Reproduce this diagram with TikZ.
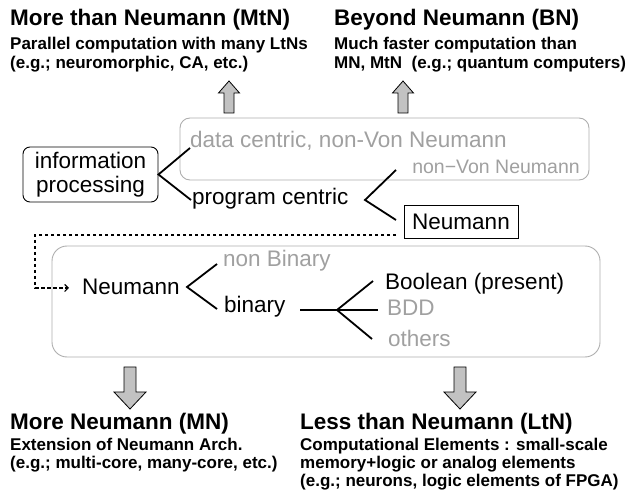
\documentclass[tikz,border=0pt]{standalone}
\usepackage{fontspec}
\setmainfont{Liberation Sans}
\usetikzlibrary{arrows.meta}
\definecolor{lgray}{HTML}{A0A0A0}
\definecolor{bgray}{HTML}{AEAEAE}
\definecolor{afill}{HTML}{C2C2C2}
\tikzset{
  ttl/.style={anchor=base west, inner sep=0pt, font=\bfseries\fontsize{22.5}{26}\selectfont},
  sub/.style={anchor=base west, inner sep=0pt, font=\bfseries\fontsize{17}{20}\selectfont},
  lbl/.style={anchor=base west, inner sep=0pt, font=\fontsize{22.5}{25}\selectfont},
  glbl/.style={lbl, text=lgray},
  branch/.style={line width=1.8pt},
  grpbox/.style={draw=bgray, line width=0.9pt, inner sep=0pt},
  blockarrow/.style={draw=black, fill=afill, line width=0.8pt, line join=miter},
}
\begin{document}
\begin{tikzpicture}[x=1pt,y=-1pt]
\useasboundingbox (0,0) rectangle (630,497);
% top headings
\node[ttl] (mtn) at (10,26) {More than Neumann (MtN)};
\node[sub] (mtn1) at (10,50) {Parallel computation with many LtNs};
\node[sub] (mtn2) at (10,69) {(e.g.; neuromorphic, CA, etc.)};
\node[ttl] (bn) at (334,26) {Beyond Neumann (BN)};
\node[sub] (bn1) at (334,50) {Much faster computation than};
\node[sub] (bn2) at (334,69) {MN, MtN\ \ (e.g.; quantum computers)};
% up arrows
\draw[blockarrow] (224,113) -- (224,93) -- (218.5,93) -- (229,81) -- (239.5,93) -- (234,93) -- (234,113) -- cycle;
\draw[blockarrow] (398,113) -- (398,93) -- (392.5,93) -- (403,81) -- (413.5,93) -- (408,93) -- (408,113) -- cycle;
% top group box
\node[grpbox, rounded corners=10pt, minimum width=409pt, minimum height=62pt] (topbox) at (384.5,149) {};
\node[glbl] (dc) at (190,148) {data centric, non-Von Neumann};
\node[glbl, anchor=base east, font=\fontsize{19.5}{22}\selectfont] (nvn) at (580,174) {non−Von Neumann};
% information processing
\node[draw, rounded corners=7pt, line width=0.9pt, minimum width=135pt, minimum height=55pt, align=center, inner sep=0pt, font=\fontsize{22.5}{24}\selectfont] (info) at (90.5,174.5) {information\\processing};
\coordinate (dcend) at (190,148);
\coordinate (pcend) at (191,200);
\draw[branch] (dcend) -- (info.east) -- (pcend);
\node[lbl] (pc) at (192,205) {program centric};
\coordinate (v2) at (365,200);
\coordinate (v2a) at (396,170);
\coordinate (v2b) at (396,220);
\draw[branch] (v2a) -- (v2) -- (v2b);
\node[draw, line width=0.9pt, minimum width=114pt, minimum height=33pt, inner sep=0pt, font=\fontsize{22.5}{25}\selectfont] (neu) at (461,221.5) {Neumann};
% dashed connector
\coordinate (d1) at (396,235);
\coordinate (d2) at (35,235);
\coordinate (d3) at (35,288);
\coordinate (d4) at (69,288);
\draw[line width=1.2pt, dash pattern=on 3.5pt off 2.5pt, -{Straight Barb[length=3.5pt,width=7pt]}] (d1) -- (d2) -- (d3) -- (d4);
% lower group box
\node[grpbox, rounded corners=15pt, minimum width=548pt, minimum height=111pt] (lowbox) at (326,301.5) {};
\node[lbl] (neu2) at (82,295) {Neumann};
\coordinate (v3) at (187,287);
\coordinate (v3a) at (217,264);
\coordinate (v3b) at (217,309);
\draw[branch] (v3a) -- (v3) -- (v3b);
\node[glbl] (nonbin) at (223,267) {non Binary};
\node[lbl] (bin) at (224,313) {binary};
\coordinate (h1) at (300,310);
\coordinate (v4) at (337,310);
\coordinate (v4a) at (373,281);
\coordinate (v4b) at (378,310);
\coordinate (v4c) at (372,339);
\draw[branch] (h1) -- (v4) -- (v4a);
\draw[branch] (v4) -- (v4b);
\draw[branch] (v4) -- (v4c);
\node[lbl] (bool) at (385,290) {Boolean\ (present)};
\node[glbl] (bdd) at (387,316) {BDD};
\node[glbl] (oth) at (388,347) {others};
% down arrows
\draw[blockarrow] (124,367) -- (124,392) -- (114,392) -- (130,409) -- (146,392) -- (136,392) -- (136,367) -- cycle;
\draw[blockarrow] (454,367) -- (454,392) -- (444,392) -- (460,409) -- (476,392) -- (466,392) -- (466,367) -- cycle;
% bottom headings
\node[ttl] (mn) at (10,430) {More Neumann (MN)};
\node[sub] (mn1) at (10,450) {Extension of Neumann Arch.};
\node[sub] (mn2) at (10,468) {(e.g.; multi-core, many-core, etc.)};
\node[ttl] (ltn) at (300,430) {Less than Neumann (LtN)};
\node[sub] (ltn1) at (300,450) {Computational Elements : small-scale};
\node[sub] (ltn2) at (300,468) {memory+logic or analog elements};
\node[sub] (ltn3) at (300,486) {(e.g.; neurons, logic elements of FPGA)};
\end{tikzpicture}
\end{document}
